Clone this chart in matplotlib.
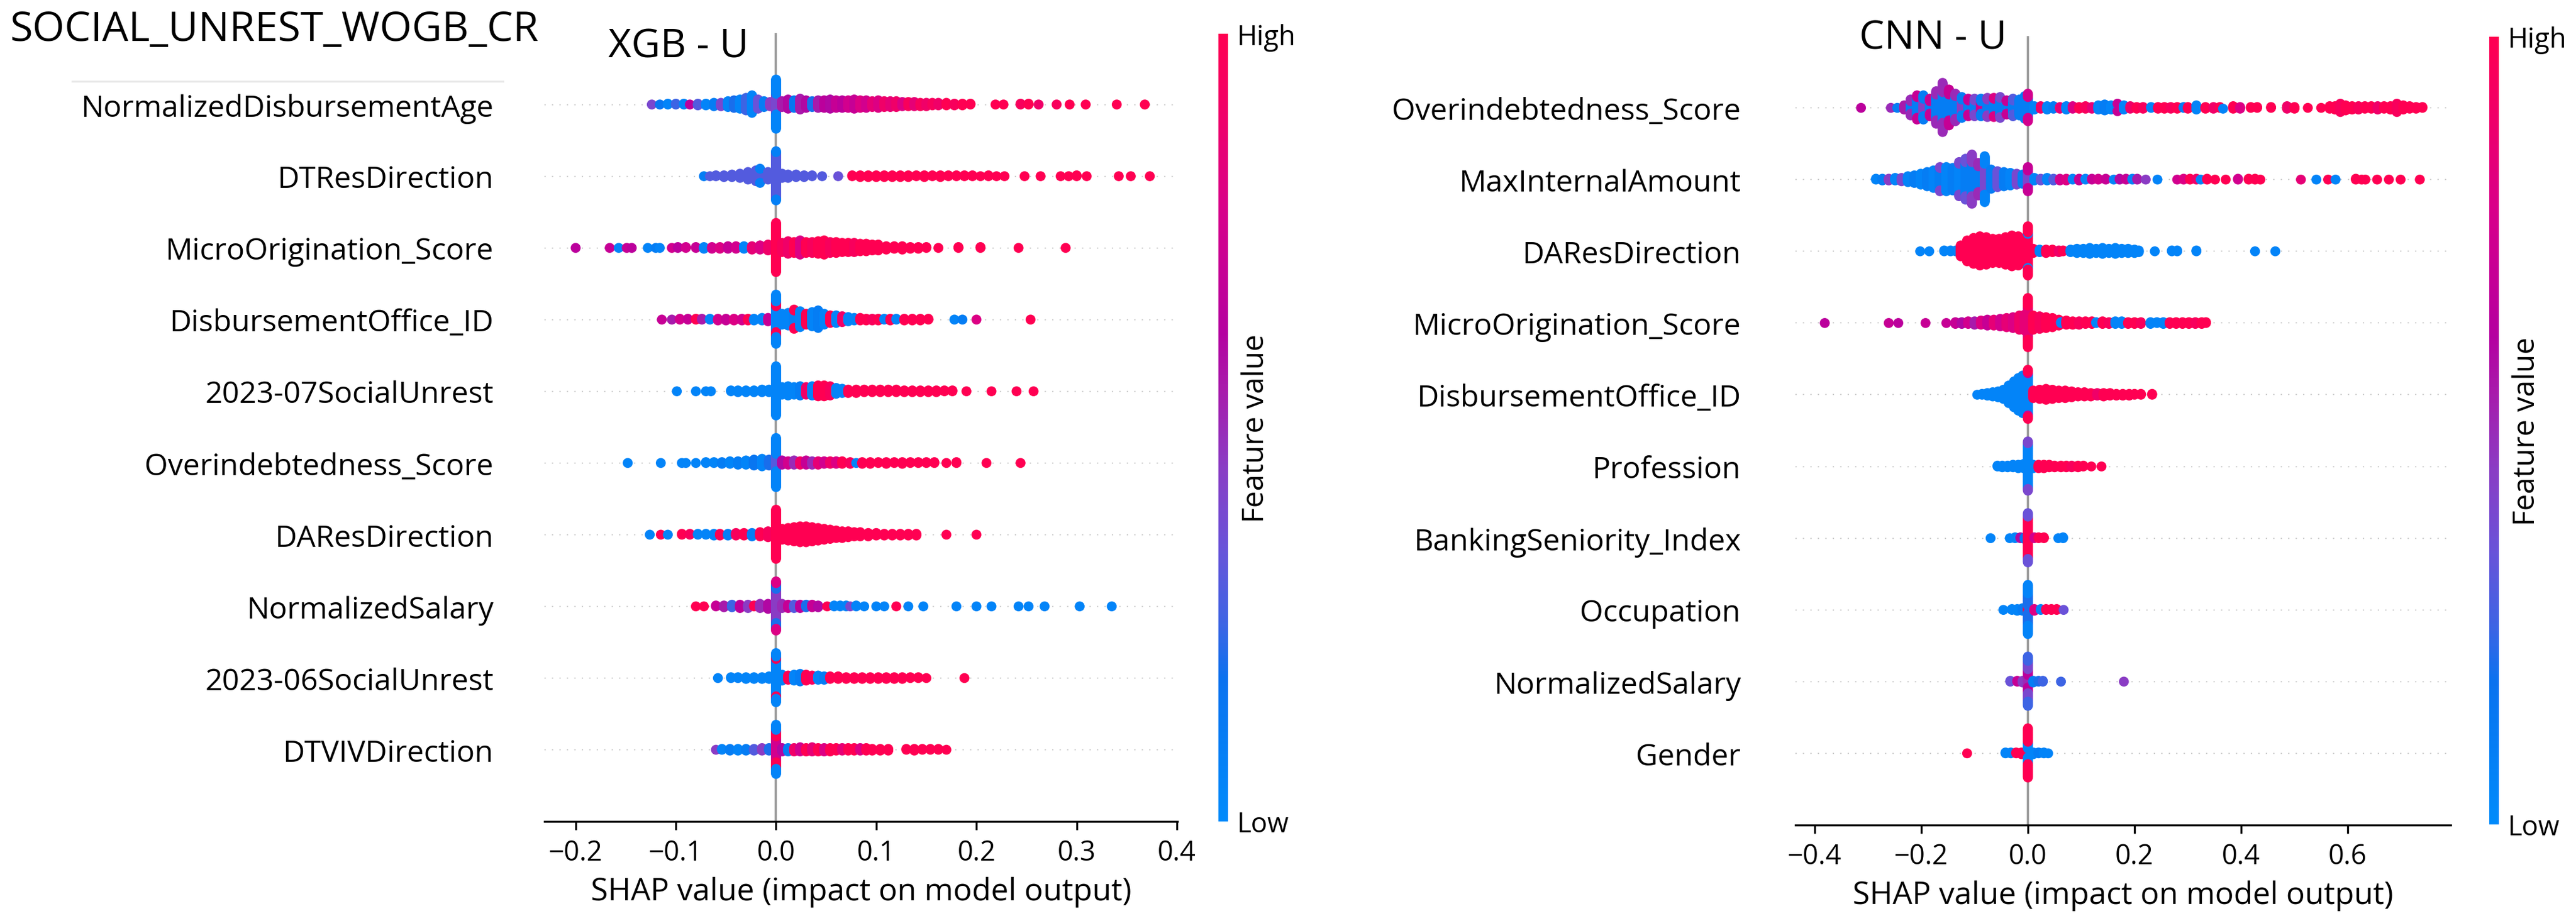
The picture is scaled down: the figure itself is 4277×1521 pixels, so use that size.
import numpy as np
import matplotlib
matplotlib.use("Agg")
import matplotlib.pyplot as plt
from matplotlib.colors import LinearSegmentedColormap
from matplotlib.lines import Line2D

plt.rcParams["font.family"] = ["Open Sans", "DejaVu Sans"]

###################################################################### data ######################################################################
# each row: (shap value, number of samples at that value, feature value 0..1)
xgb_features    = ["NormalizedDisbursementAge", "DTResDirection", "MicroOrigination_Score", "DisbursementOffice_ID",
                   "2023-07SocialUnrest", "Overindebtedness_Score", "DAResDirection", "NormalizedSalary",
                   "2023-06SocialUnrest", "DTVIVDirection"]
cnn_features    = ["Overindebtedness_Score", "MaxInternalAmount", "DAResDirection", "MicroOrigination_Score",
                   "DisbursementOffice_ID", "Profession", "BankingSeniority_Index", "Occupation",
                   "NormalizedSalary", "Gender"]

xgb_disb_age    = [(-0.124, 1, 0.40), (-0.116, 1, 0.15), (-0.108, 2, 0.05), (-0.100, 2, 0.25), (-0.092, 2, 0.05), (-0.086, 1, 0.65),
                   (-0.078, 3, 0.30), (-0.070, 3, 0.05), (-0.062, 5, 0.10), (-0.055, 5, 0.40), (-0.048, 8, 0.05), (-0.042, 10, 0.20),
                   (-0.036, 12, 0.05), (-0.030, 16, 0.25), (-0.024, 22, 0.05), (-0.018, 12, 0.35), (-0.012, 8, 0.10), (-0.006, 6, 0.45),
                   (0.0, 24, 0.40), (0.0, 36, 0.05),
                   (0.006, 8, 0.55), (0.012, 12, 0.60), (0.018, 10, 0.15), (0.024, 14, 0.55), (0.030, 10, 0.60), (0.036, 8, 0.20),
                   (0.042, 10, 0.55), (0.048, 10, 0.65), (0.054, 12, 0.60), (0.060, 10, 0.70), (0.066, 10, 0.65), (0.072, 10, 0.75),
                   (0.078, 12, 0.70), (0.084, 10, 0.80), (0.090, 10, 0.75), (0.096, 8, 0.85), (0.102, 10, 0.80), (0.108, 8, 0.90),
                   (0.114, 8, 0.85), (0.120, 8, 0.90), (0.126, 6, 0.80), (0.132, 6, 0.95), (0.138, 6, 0.85), (0.144, 5, 0.95),
                   (0.150, 5, 0.90), (0.156, 4, 0.95), (0.162, 4, 0.90), (0.170, 4, 1.0), (0.178, 3, 0.95), (0.186, 3, 1.0),
                   (0.194, 2, 1.0), (0.219, 1, 1.0), (0.227, 1, 1.0), (0.244, 2, 0.95), (0.252, 2, 1.0), (0.262, 1, 0.9),
                   (0.280, 1, 0.95), (0.293, 1, 1.0), (0.309, 1, 1.0), (0.340, 1, 1.0), (0.368, 1, 1.0)]
xgb_dtres       = [(-0.072, 1, 0.10), (-0.066, 1, 0.30), (-0.060, 2, 0.30), (-0.052, 3, 0.30), (-0.044, 4, 0.30), (-0.036, 6, 0.30),
                   (-0.028, 10, 0.30), (-0.020, 14, 0.30), (-0.016, 16, 0.30), (-0.016, 2, 0.08), (-0.008, 10, 0.30),
                   (0.0, 56, 0.30), (0.0, 4, 0.08),
                   (0.006, 6, 0.30), (0.012, 5, 0.30), (0.020, 4, 0.30), (0.028, 3, 0.30), (0.036, 2, 0.30), (0.046, 1, 0.30),
                   (0.062, 1, 0.35), (0.076, 2, 1.0), (0.084, 3, 1.0), (0.092, 3, 1.0), (0.100, 3, 1.0), (0.108, 3, 1.0),
                   (0.116, 3, 1.0), (0.124, 3, 1.0), (0.132, 3, 1.0), (0.140, 2, 1.0), (0.148, 3, 1.0), (0.156, 2, 1.0),
                   (0.164, 3, 1.0), (0.172, 2, 1.0), (0.180, 2, 1.0), (0.188, 2, 1.0), (0.196, 2, 1.0), (0.204, 1, 1.0),
                   (0.212, 2, 1.0), (0.220, 1, 1.0), (0.228, 1, 1.0), (0.248, 1, 1.0), (0.264, 1, 1.0), (0.284, 1, 1.0),
                   (0.292, 1, 1.0), (0.300, 2, 1.0), (0.310, 1, 1.0), (0.342, 1, 1.0), (0.354, 1, 1.0), (0.373, 1, 1.0)]
xgb_micro       = [(-0.200, 1, 0.65), (-0.166, 1, 0.70), (-0.157, 1, 0.05), (-0.149, 1, 0.70), (-0.144, 1, 0.65), (-0.128, 1, 0.05),
                   (-0.120, 1, 0.10), (-0.116, 1, 0.05), (-0.104, 1, 0.75), (-0.098, 2, 0.65), (-0.090, 2, 0.75), (-0.080, 2, 0.70),
                   (-0.072, 3, 0.05), (-0.064, 3, 0.75), (-0.056, 3, 0.80), (-0.048, 4, 0.70), (-0.040, 4, 0.75), (-0.032, 4, 0.05),
                   (-0.024, 5, 0.85), (-0.016, 6, 0.80), (-0.008, 8, 0.90),
                   (0.0, 60, 1.0),
                   (0.006, 12, 0.95), (0.012, 16, 0.90), (0.018, 14, 1.0), (0.024, 18, 0.80), (0.030, 14, 1.0), (0.036, 14, 0.95),
                   (0.042, 16, 1.0), (0.048, 18, 1.0), (0.054, 14, 0.95), (0.060, 14, 1.0), (0.066, 12, 1.0), (0.072, 12, 1.0),
                   (0.078, 12, 0.95), (0.084, 10, 1.0), (0.090, 10, 1.0), (0.096, 8, 1.0), (0.102, 8, 1.0), (0.110, 5, 1.0),
                   (0.118, 4, 1.0), (0.126, 5, 1.0), (0.134, 3, 1.0), (0.142, 3, 1.0), (0.150, 2, 1.0), (0.162, 1, 1.0),
                   (0.182, 2, 1.0), (0.204, 2, 1.0), (0.242, 1, 1.0), (0.289, 1, 1.0)]
xgb_office      = [(-0.114, 1, 0.70), (-0.104, 1, 0.55), (-0.096, 2, 0.75), (-0.088, 2, 0.70), (-0.080, 2, 1.0), (-0.074, 2, 0.55),
                   (-0.066, 2, 0.05), (-0.058, 3, 0.75), (-0.050, 3, 0.70), (-0.042, 3, 0.80), (-0.034, 3, 0.75), (-0.028, 3, 1.0),
                   (-0.022, 3, 0.05), (-0.014, 4, 0.05), (-0.008, 5, 0.70),
                   (0.0, 30, 0.05), (0.0, 12, 1.0), (0.0, 18, 0.05),
                   (0.006, 14, 0.05), (0.012, 16, 0.05), (0.018, 20, 0.08), (0.018, 4, 1.0), (0.024, 20, 0.05), (0.030, 14, 1.0),
                   (0.036, 18, 0.05), (0.042, 22, 0.10), (0.048, 14, 0.05), (0.054, 10, 1.0), (0.060, 10, 0.05), (0.066, 8, 0.90),
                   (0.072, 6, 0.05), (0.078, 4, 0.05), (0.084, 4, 1.0), (0.090, 3, 1.0), (0.096, 3, 0.95), (0.102, 3, 1.0),
                   (0.108, 2, 0.05), (0.114, 3, 1.0), (0.120, 2, 0.05), (0.128, 3, 1.0), (0.136, 3, 1.0), (0.144, 3, 1.0),
                   (0.152, 2, 1.0), (0.178, 1, 0.05), (0.186, 1, 0.10), (0.200, 1, 0.80), (0.254, 1, 1.0)]
xgb_unrest07    = [(-0.099, 1, 0.05), (-0.080, 1, 0.05), (-0.070, 1, 0.05), (-0.065, 1, 0.05), (-0.045, 2, 0.05), (-0.038, 3, 0.05),
                   (-0.030, 3, 0.05), (-0.022, 3, 0.05), (-0.014, 4, 0.05), (-0.007, 4, 0.05),
                   (0.0, 60, 0.05),
                   (0.006, 10, 0.05), (0.012, 12, 0.05), (0.018, 10, 0.05), (0.024, 12, 0.10), (0.030, 10, 0.90), (0.036, 12, 0.05),
                   (0.042, 14, 1.0), (0.048, 14, 1.0), (0.054, 12, 0.95), (0.060, 8, 0.05), (0.066, 6, 0.05), (0.072, 5, 1.0),
                   (0.080, 5, 1.0), (0.088, 4, 1.0), (0.096, 4, 1.0), (0.104, 4, 1.0), (0.112, 4, 1.0), (0.120, 4, 1.0),
                   (0.128, 3, 1.0), (0.136, 3, 1.0), (0.144, 3, 1.0), (0.152, 3, 1.0), (0.160, 3, 1.0), (0.168, 2, 1.0),
                   (0.176, 2, 1.0), (0.190, 1, 1.0), (0.215, 1, 1.0), (0.240, 1, 1.0), (0.257, 1, 1.0)]
xgb_overindebt  = [(-0.148, 1, 0.05), (-0.115, 1, 0.05), (-0.094, 1, 0.05), (-0.090, 1, 0.05), (-0.080, 1, 0.05), (-0.070, 2, 0.05),
                   (-0.062, 2, 0.05), (-0.054, 3, 0.10), (-0.046, 4, 0.05), (-0.038, 5, 0.10), (-0.030, 6, 0.05), (-0.022, 8, 0.15),
                   (-0.014, 10, 0.05), (-0.007, 8, 0.20),
                   (0.0, 20, 0.30), (0.0, 40, 0.05),
                   (0.006, 6, 0.60), (0.012, 5, 0.75), (0.018, 6, 0.50), (0.024, 5, 0.90), (0.030, 6, 0.70), (0.036, 5, 0.50),
                   (0.042, 5, 0.85), (0.048, 4, 0.75), (0.054, 4, 0.90), (0.060, 4, 0.80), (0.066, 4, 1.0), (0.074, 3, 0.95),
                   (0.080, 1, 0.05), (0.086, 3, 1.0), (0.094, 3, 1.0), (0.102, 2, 1.0), (0.110, 3, 1.0), (0.118, 2, 1.0),
                   (0.126, 3, 1.0), (0.134, 2, 1.0), (0.142, 2, 1.0), (0.150, 2, 1.0), (0.158, 2, 1.0), (0.170, 1, 1.0),
                   (0.180, 2, 1.0), (0.210, 1, 1.0), (0.244, 1, 1.0)]
xgb_dares       = [(-0.126, 1, 0.05), (-0.115, 1, 1.0), (-0.108, 1, 0.05), (-0.094, 2, 1.0), (-0.086, 2, 0.95), (-0.078, 2, 0.05),
                   (-0.070, 2, 0.05), (-0.062, 3, 0.05), (-0.056, 3, 1.0), (-0.048, 3, 0.10), (-0.040, 4, 0.95), (-0.032, 4, 1.0),
                   (-0.024, 5, 0.10), (-0.016, 6, 1.0), (-0.008, 8, 0.95),
                   (0.0, 60, 1.0),
                   (0.006, 14, 1.0), (0.012, 16, 1.0), (0.018, 18, 1.0), (0.024, 20, 1.0), (0.030, 20, 1.0), (0.036, 18, 1.0),
                   (0.042, 16, 1.0), (0.048, 14, 1.0), (0.054, 12, 1.0), (0.060, 10, 1.0), (0.066, 9, 1.0), (0.072, 8, 1.0),
                   (0.078, 6, 1.0), (0.084, 6, 1.0), (0.092, 5, 1.0), (0.100, 4, 1.0), (0.108, 3, 1.0), (0.116, 3, 1.0),
                   (0.124, 3, 1.0), (0.132, 3, 1.0), (0.140, 3, 1.0), (0.170, 1, 1.0), (0.200, 1, 1.0)]
xgb_salary      = [(-0.080, 1, 1.0), (-0.072, 1, 1.0), (-0.060, 2, 0.70), (-0.052, 3, 0.55), (-0.044, 4, 0.25), (-0.036, 5, 0.65),
                   (-0.028, 5, 0.45), (-0.022, 2, 1.0), (-0.016, 6, 0.50), (-0.008, 7, 0.60),
                   (0.0, 40, 0.45), (0.0, 14, 0.20), (0.0, 6, 0.80),
                   (0.006, 6, 0.50), (0.012, 5, 0.70), (0.018, 5, 0.30), (0.024, 5, 0.65), (0.030, 4, 0.20), (0.036, 4, 0.70),
                   (0.042, 3, 0.60), (0.051, 1, 1.0), (0.058, 2, 0.05), (0.064, 2, 0.05), (0.070, 2, 0.05), (0.074, 1, 0.40),
                   (0.080, 2, 0.05), (0.088, 1, 0.05), (0.100, 1, 0.05), (0.108, 1, 0.05), (0.120, 1, 1.0), (0.132, 1, 0.05),
                   (0.147, 1, 0.05), (0.180, 1, 0.05), (0.200, 1, 0.05), (0.215, 1, 0.05), (0.242, 1, 0.05), (0.252, 1, 0.05),
                   (0.268, 1, 0.05), (0.303, 1, 0.05), (0.335, 1, 0.05)]
xgb_unrest06    = [(-0.058, 1, 0.05), (-0.045, 2, 0.05), (-0.038, 2, 0.05), (-0.030, 3, 0.05), (-0.022, 3, 0.05), (-0.014, 3, 0.05),
                   (-0.007, 4, 0.05),
                   (0.0, 44, 0.05), (0.0, 6, 1.0), (0.0, 10, 0.05),
                   (0.006, 8, 0.05), (0.012, 6, 1.0), (0.018, 8, 0.05), (0.024, 10, 0.10), (0.030, 8, 1.0), (0.036, 6, 0.95),
                   (0.042, 6, 0.05), (0.048, 5, 0.10), (0.054, 4, 1.0), (0.062, 4, 1.0), (0.070, 3, 1.0), (0.078, 3, 1.0),
                   (0.086, 3, 1.0), (0.094, 3, 1.0), (0.102, 3, 1.0), (0.110, 3, 1.0), (0.118, 3, 1.0), (0.126, 3, 1.0),
                   (0.134, 2, 1.0), (0.142, 2, 1.0), (0.150, 1, 1.0), (0.188, 1, 1.0)]
xgb_dtviv       = [(-0.060, 1, 0.45), (-0.054, 2, 0.05), (-0.046, 3, 0.10), (-0.038, 3, 0.05), (-0.030, 3, 0.10), (-0.022, 3, 0.30),
                   (-0.014, 4, 0.45), (-0.007, 4, 0.20),
                   (0.0, 30, 0.75), (0.0, 16, 1.0), (0.0, 14, 0.05),
                   (0.006, 5, 0.60), (0.012, 5, 0.10), (0.018, 5, 0.90), (0.024, 6, 0.75), (0.030, 5, 1.0), (0.036, 6, 0.85),
                   (0.042, 5, 1.0), (0.048, 5, 0.80), (0.054, 5, 1.0), (0.060, 4, 1.0), (0.066, 4, 0.85), (0.072, 4, 1.0),
                   (0.078, 4, 1.0), (0.084, 4, 0.80), (0.090, 4, 1.0), (0.096, 3, 1.0), (0.104, 3, 1.0), (0.112, 3, 1.0),
                   (0.130, 2, 1.0), (0.138, 3, 1.0), (0.146, 2, 1.0), (0.154, 2, 1.0), (0.162, 2, 1.0), (0.170, 1, 1.0)]

cnn_overindebt  = [(-0.313, 1, 0.65), (-0.257, 1, 0.50), (-0.245, 1, 0.10), (-0.232, 6, 0.55), (-0.220, 14, 0.10), (-0.220, 6, 0.50),
                   (-0.208, 24, 0.10), (-0.208, 6, 0.70), (-0.196, 20, 0.45), (-0.196, 10, 0.10), (-0.184, 14, 0.10), (-0.184, 8, 0.70),
                   (-0.172, 30, 0.10), (-0.172, 10, 0.50), (-0.160, 36, 0.10), (-0.160, 24, 0.50), (-0.148, 30, 0.10), (-0.148, 14, 0.70),
                   (-0.136, 26, 0.10), (-0.136, 8, 0.50), (-0.124, 18, 0.45), (-0.124, 8, 0.10), (-0.112, 16, 0.10), (-0.112, 6, 0.70),
                   (-0.100, 16, 0.10), (-0.100, 6, 0.40), (-0.088, 14, 0.75), (-0.088, 8, 0.10), (-0.076, 18, 0.10), (-0.076, 6, 0.45),
                   (-0.064, 20, 0.10), (-0.064, 4, 0.80), (-0.052, 22, 0.10), (-0.052, 4, 0.40), (-0.040, 14, 0.10), (-0.040, 4, 0.70),
                   (-0.028, 16, 0.10), (-0.028, 6, 0.30), (-0.016, 20, 0.10), (-0.006, 28, 0.10),
                   (0.0, 24, 0.10), (0.0, 10, 0.75),
                   (0.012, 5, 0.05), (0.024, 4, 0.90), (0.036, 5, 0.05), (0.048, 4, 0.10), (0.060, 3, 0.85), (0.072, 5, 0.05),
                   (0.084, 4, 0.80), (0.096, 3, 1.0), (0.108, 4, 0.95), (0.120, 3, 0.85), (0.132, 6, 0.05), (0.144, 8, 0.10),
                   (0.156, 6, 0.05), (0.168, 8, 0.10), (0.168, 2, 0.70), (0.180, 6, 0.05), (0.192, 4, 0.90), (0.204, 3, 1.0),
                   (0.216, 3, 0.95), (0.231, 2, 0.05), (0.244, 3, 1.0), (0.256, 3, 1.0), (0.268, 3, 0.95), (0.280, 3, 1.0),
                   (0.292, 2, 0.10), (0.300, 3, 1.0), (0.316, 2, 1.0), (0.316, 4, 0.05), (0.333, 3, 1.0), (0.348, 3, 0.90),
                   (0.360, 2, 1.0), (0.366, 1, 0.05), (0.385, 4, 1.0), (0.398, 3, 0.80), (0.418, 2, 1.0), (0.430, 2, 1.0),
                   (0.456, 2, 1.0), (0.486, 4, 0.90), (0.500, 3, 1.0), (0.525, 1, 1.0), (0.550, 1, 1.0), (0.566, 4, 1.0),
                   (0.576, 5, 1.0), (0.586, 11, 0.95), (0.596, 7, 1.0), (0.608, 5, 1.0), (0.620, 5, 0.95), (0.632, 4, 1.0),
                   (0.644, 4, 1.0), (0.656, 5, 0.90), (0.668, 4, 1.0), (0.680, 5, 1.0), (0.692, 11, 0.95), (0.704, 6, 1.0),
                   (0.716, 4, 1.0), (0.728, 3, 1.0), (0.740, 2, 1.0)]
cnn_maxamount   = [(-0.285, 2, 0.05), (-0.273, 3, 0.10), (-0.261, 3, 0.45), (-0.249, 4, 0.05), (-0.237, 5, 0.40), (-0.225, 8, 0.05),
                   (-0.213, 10, 0.10), (-0.201, 14, 0.05), (-0.189, 18, 0.10), (-0.177, 22, 0.05), (-0.165, 26, 0.10), (-0.165, 4, 0.40),
                   (-0.153, 30, 0.05), (-0.141, 28, 0.10), (-0.129, 36, 0.05), (-0.129, 6, 0.40), (-0.117, 40, 0.10), (-0.117, 10, 0.35),
                   (-0.105, 40, 0.10), (-0.105, 20, 0.45), (-0.093, 30, 0.10), (-0.093, 10, 0.50), (-0.081, 36, 0.40), (-0.081, 20, 0.05),
                   (-0.069, 24, 0.10), (-0.057, 20, 0.35), (-0.045, 18, 0.10), (-0.033, 16, 0.05), (-0.021, 14, 0.40), (-0.010, 12, 0.10),
                   (0.0, 20, 0.40), (0.0, 10, 0.70),
                   (0.012, 4, 0.05), (0.024, 3, 0.35), (0.036, 4, 0.05), (0.048, 3, 0.30), (0.060, 3, 0.75), (0.072, 3, 0.80),
                   (0.084, 2, 0.05), (0.096, 3, 0.70), (0.108, 2, 0.05), (0.120, 2, 0.70), (0.132, 2, 0.75), (0.146, 2, 0.70),
                   (0.161, 1, 0.05), (0.172, 2, 0.60), (0.184, 2, 0.70), (0.196, 2, 0.05), (0.205, 2, 0.55), (0.221, 1, 0.45),
                   (0.243, 1, 0.05), (0.280, 1, 0.75), (0.292, 2, 0.80), (0.304, 2, 1.0), (0.316, 2, 0.90), (0.324, 1, 0.05),
                   (0.336, 2, 1.0), (0.351, 1, 1.0), (0.371, 1, 1.0), (0.394, 2, 0.75), (0.414, 2, 1.0), (0.426, 2, 1.0),
                   (0.436, 1, 1.0), (0.512, 1, 0.85), (0.541, 1, 0.05), (0.563, 1, 1.0), (0.577, 1, 0.05), (0.615, 2, 1.0),
                   (0.626, 1, 1.0), (0.633, 1, 1.0), (0.655, 1, 1.0), (0.677, 1, 1.0), (0.699, 1, 1.0), (0.735, 1, 1.0)]
cnn_dares       = [(-0.202, 1, 0.05), (-0.185, 1, 0.05), (-0.157, 2, 0.05), (-0.145, 2, 0.05), (-0.135, 2, 0.05), (-0.126, 14, 1.0),
                   (-0.114, 26, 1.0), (-0.102, 32, 1.0), (-0.090, 36, 1.0), (-0.078, 34, 1.0), (-0.066, 30, 1.0), (-0.054, 30, 1.0),
                   (-0.042, 34, 1.0), (-0.030, 38, 1.0), (-0.018, 36, 1.0), (-0.008, 30, 1.0),
                   (0.0, 40, 1.0), (0.0, 4, 0.05), (0.0, 16, 1.0),
                   (0.010, 6, 1.0), (0.022, 4, 0.05), (0.034, 5, 1.0), (0.046, 4, 1.0), (0.058, 3, 0.90), (0.066, 2, 1.0),
                   (0.080, 4, 0.05), (0.092, 6, 0.05), (0.104, 6, 0.05), (0.116, 8, 0.05), (0.128, 6, 0.05), (0.140, 8, 0.05),
                   (0.152, 6, 0.05), (0.164, 8, 0.05), (0.176, 6, 0.05), (0.188, 6, 0.05), (0.200, 5, 0.05), (0.208, 3, 0.05),
                   (0.238, 1, 0.05), (0.270, 2, 0.05), (0.280, 2, 0.05), (0.316, 2, 0.05), (0.426, 1, 0.05), (0.464, 1, 0.05)]
cnn_micro       = [(-0.381, 1, 0.65), (-0.261, 1, 0.70), (-0.243, 1, 0.65), (-0.192, 1, 0.70), (-0.153, 1, 0.70), (-0.136, 3, 0.70),
                   (-0.124, 3, 0.60), (-0.112, 4, 0.75), (-0.100, 5, 0.55), (-0.088, 6, 0.80), (-0.076, 8, 0.70), (-0.064, 8, 0.85),
                   (-0.052, 10, 0.75), (-0.040, 12, 0.85), (-0.028, 14, 0.80), (-0.016, 18, 0.90), (-0.006, 20, 0.85),
                   (0.0, 40, 0.85), (0.0, 20, 1.0),
                   (0.010, 18, 1.0), (0.022, 16, 0.95), (0.034, 14, 1.0), (0.046, 12, 1.0), (0.058, 8, 1.0), (0.062, 2, 0.05),
                   (0.072, 6, 1.0), (0.084, 5, 1.0), (0.096, 5, 0.95), (0.108, 4, 1.0), (0.120, 4, 1.0), (0.128, 2, 0.05),
                   (0.140, 4, 1.0), (0.152, 3, 0.95), (0.164, 4, 0.05), (0.176, 4, 0.05), (0.188, 3, 1.0), (0.200, 3, 1.0),
                   (0.212, 3, 0.95), (0.230, 3, 0.05), (0.242, 2, 0.05), (0.254, 3, 0.05), (0.266, 3, 1.0), (0.278, 3, 1.0),
                   (0.290, 3, 1.0), (0.302, 3, 1.0), (0.314, 3, 0.95), (0.326, 3, 1.0), (0.334, 2, 1.0)]
cnn_office      = [(-0.095, 1, 0.05), (-0.086, 2, 0.05), (-0.076, 4, 0.05), (-0.066, 6, 0.05), (-0.056, 8, 0.05), (-0.046, 12, 0.05),
                   (-0.036, 22, 0.05), (-0.026, 32, 0.05), (-0.018, 40, 0.05), (-0.010, 46, 0.05),
                   (0.0, 50, 0.05), (0.0, 4, 0.75), (0.0, 6, 1.0),
                   (0.010, 10, 1.0), (0.022, 12, 1.0), (0.034, 14, 1.0), (0.046, 12, 1.0), (0.058, 10, 1.0), (0.070, 10, 1.0),
                   (0.082, 8, 1.0), (0.094, 6, 1.0), (0.106, 6, 1.0), (0.118, 5, 1.0), (0.130, 4, 0.90), (0.142, 5, 1.0),
                   (0.154, 4, 1.0), (0.166, 3, 1.0), (0.178, 3, 1.0), (0.190, 3, 1.0), (0.200, 2, 1.0), (0.212, 2, 1.0),
                   (0.233, 2, 1.0)]
cnn_profession  = [(-0.057, 2, 0.05), (-0.048, 3, 0.05), (-0.038, 3, 0.05), (-0.028, 4, 0.05), (-0.018, 5, 0.05), (-0.008, 6, 0.05),
                   (0.0, 54, 0.05), (0.0, 6, 0.40),
                   (0.010, 5, 0.05), (0.020, 5, 1.0), (0.030, 5, 1.0), (0.040, 4, 1.0), (0.050, 3, 1.0), (0.062, 3, 1.0),
                   (0.072, 3, 1.0), (0.082, 3, 0.95), (0.094, 3, 1.0), (0.104, 2, 1.0), (0.119, 1, 1.0), (0.138, 1, 1.0)]
cnn_seniority   = [(-0.070, 1, 0.05), (-0.034, 1, 0.05), (-0.024, 2, 0.05), (-0.014, 2, 0.60), (-0.006, 3, 0.15),
                   (0.0, 50, 1.0), (0.0, 10, 0.35),
                   (0.012, 2, 0.75), (0.020, 2, 1.0), (0.030, 2, 1.0), (0.057, 1, 0.05), (0.066, 2, 0.05)]
cnn_occupation  = [(-0.046, 1, 0.05), (-0.030, 2, 0.05), (-0.020, 3, 0.05), (-0.010, 4, 0.10),
                   (0.0, 8, 1.0), (0.0, 30, 0.20), (0.0, 22, 0.05),
                   (0.012, 3, 0.80), (0.024, 2, 0.05), (0.034, 2, 1.0), (0.044, 2, 1.0), (0.054, 2, 1.0), (0.067, 1, 0.35)]
cnn_salary      = [(-0.033, 2, 0.35), (-0.020, 2, 0.70), (-0.010, 3, 0.45),
                   (0.0, 14, 0.50), (0.0, 14, 0.65), (0.0, 20, 0.40), (0.0, 12, 0.25),
                   (0.010, 3, 0.10), (0.020, 2, 0.20), (0.028, 2, 0.25), (0.062, 1, 0.25), (0.180, 1, 0.45)]
cnn_gender      = [(-0.114, 1, 1.0), (-0.042, 2, 0.05), (-0.032, 2, 0.05), (-0.022, 2, 1.0), (-0.012, 3, 1.0),
                   (0.0, 10, 1.0), (0.0, 16, 0.05), (0.0, 34, 1.0),
                   (0.010, 3, 0.05), (0.020, 2, 0.10), (0.030, 2, 0.05), (0.038, 1, 0.05)]

xgb_rows        = [xgb_disb_age, xgb_dtres, xgb_micro, xgb_office, xgb_unrest07,
                   xgb_overindebt, xgb_dares, xgb_salary, xgb_unrest06, xgb_dtviv]
cnn_rows        = [cnn_overindebt, cnn_maxamount, cnn_dares, cnn_micro, cnn_office,
                   cnn_profession, cnn_seniority, cnn_occupation, cnn_salary, cnn_gender]

################################################################## plotting ######################################################################
W, H            = 4277, 1522
DPI             = 297.5
red_blue        = LinearSegmentedColormap.from_list("red_blue", [(0.0, "#008bfb"), (0.18, "#0a72ef"), (0.25, "#3d64e4"),
                                                                 (0.35, "#6a52d8"), (0.45, "#8a3cc4"), (0.55, "#a81aab"),
                                                                 (0.62, "#b400a0"), (0.78, "#d8008a"), (0.9, "#f00068"),
                                                                 (1.0, "#ff0052")])


def swarm_offsets(shaps, row_height=0.4, nbins=100):
    # same stacking rule as the shap beeswarm: bin along x, pile up alternating up / down
    quant       = np.round(nbins * (shaps - shaps.min()) / (shaps.max() - shaps.min() + 1e-8))
    inds        = np.argsort(quant, kind="stable")
    ys          = np.zeros(len(shaps))
    layer, last = 0, -1
    for ind in inds:
        if quant[ind] != last:
            layer = 0
        ys[ind] = np.ceil(layer / 2) * ((layer % 2) * 2 - 1)
        layer  += 1
        last    = quant[ind]
    return ys * 0.9 * (row_height / np.max(ys + 1))


def px(x, y):
    return x / W, 1 - y / H


def summary_panel(rect, features, rows, xlim, xticks, ypad):
    ax          = fig.add_axes(rect)
    ax.axvline(0, color="#999999", lw=0.9, zorder=-1)
    n           = len(features)
    for pos, groups in enumerate(rows[::-1]):
        g       = np.array(groups, dtype=float)
        counts  = g[:, 1].astype(int)
        shaps   = np.repeat(g[:, 0], counts)
        vals    = np.repeat(g[:, 2], counts)
        ax.axhline(pos, color="#cccccc", lw=0.5, dashes=(1, 5), zorder=-1)
        ax.scatter(shaps, pos + swarm_offsets(shaps), c=vals, cmap=red_blue, vmin=0, vmax=1,
                   s=16, linewidths=0, alpha=1, zorder=3, rasterized=True)
    ax.set_yticks(range(n))
    ax.set_yticklabels(features[::-1], fontsize=12.1)
    ax.tick_params("y", length=0, pad=ypad)
    ax.tick_params("x", labelsize=11)
    ax.set_xticks(xticks)
    for side in ["left", "right", "top"]:
        ax.spines[side].set_visible(False)
    ax.set_ylim(-1, n)
    ax.set_xlim(xlim)
    ax.set_xlabel("SHAP value (impact on model output)", fontsize=12.5)
    return ax


def feature_colorbar(rect, label_x, label_y):
    cax         = fig.add_axes(rect)
    sm          = plt.cm.ScalarMappable(cmap=red_blue, norm=plt.Normalize(0, 1))
    cb          = fig.colorbar(sm, cax=cax, ticks=[0, 1])
    cb.set_ticklabels(["Low", "High"])
    cb.ax.tick_params(labelsize=11, length=0)
    cb.outline.set_visible(False)
    fig.text(*px(label_x, label_y), "Feature value", fontsize=12, rotation=90, ha="center", va="center")


fig             = plt.figure(figsize=(W / DPI, H / DPI), dpi=DPI)

summary_panel([904 / W, 1 - 1365 / H, 1051 / W, 1309.5 / H], xgb_features, xgb_rows,
              (-0.2311, 0.4006), [-0.2, -0.1, 0.0, 0.1, 0.2, 0.3, 0.4], 20.5)
summary_panel([2981 / W, 1 - 1371 / H, 1088 / W, 1310 / H], cnn_features, cnn_rows,
              (-0.436, 0.793), [-0.4, -0.2, 0.0, 0.2, 0.4, 0.6], 22)

feature_colorbar([2023 / W, 1 - 1365 / H, 16 / W, 1308 / H], 2085, 711)
feature_colorbar([4133 / W, 1 - 1370 / H, 16 / W, 1308 / H], 4195, 716)

fig.text(*px(16, 68), "SOCIAL_UNREST_WOGB_CR", fontsize=16.6, ha="left", va="baseline")
fig.add_artist(Line2D([120 / W, 835 / W], [1 - 136 / H, 1 - 136 / H], color="#e8e8e8", lw=0.8))
fig.text(*px(1010, 95), "XGB - U", fontsize=16, ha="left", va="baseline")
fig.text(*px(3087, 82), "CNN - U", fontsize=16, ha="left", va="baseline")

fig.savefig("out.png", dpi=DPI, facecolor="white")
